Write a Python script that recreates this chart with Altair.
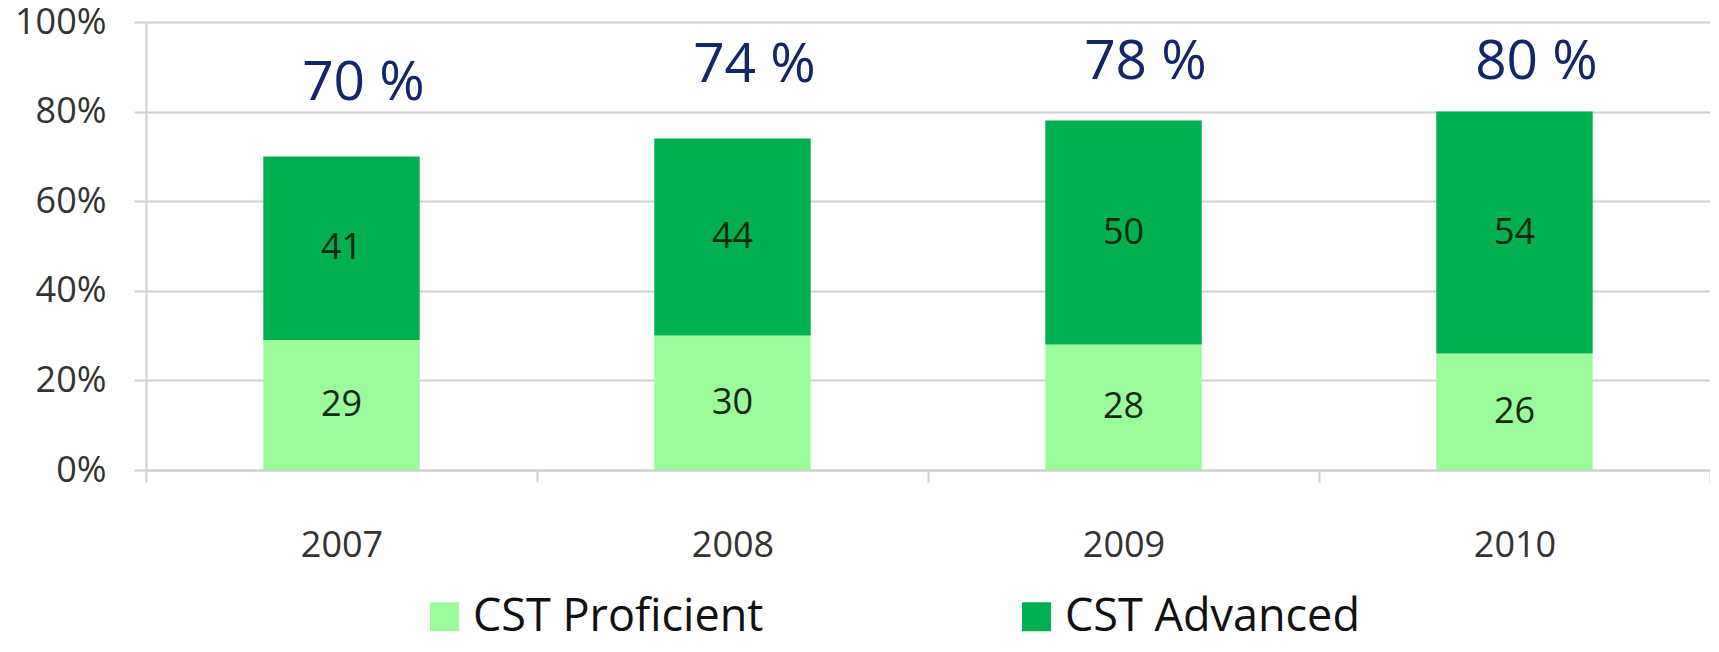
import altair as alt
import pandas as pd

years = ["2007", "2008", "2009", "2010"]
proficient = [29, 30, 28, 26]
advanced = [41, 44, 50, 54]
series_names = ["CST Proficient", "CST Advanced"]
series_colors = ["#9BFB9B", "#00B050"]
y_ticks = [0, 20, 40, 60, 80, 100]

rows = []
for i, yr in enumerate(years):
    rows.append({"year": yr, "series": series_names[0], "value": proficient[i], "order": 0})
    rows.append({"year": yr, "series": series_names[1], "value": advanced[i], "order": 1})
df = pd.DataFrame(rows)
tot = pd.DataFrame({"year": years, "total": [p + a for p, a in zip(proficient, advanced)]})

FONT = "Open Sans"
GRID = "#d0d0d0"

x_scale = alt.Scale(paddingInner=0, paddingOuter=0)
x_enc = alt.X(
    "year:N", sort=years, title=None, scale=x_scale,
    axis=alt.Axis(labelAngle=0, labelFontSize=36, labelFont=FONT, labelColor="#333333",
                  labelPadding=46, tickSize=12, tickBand="extent", tickColor=GRID,
                  tickWidth=2, domainColor=GRID, domainWidth=2, grid=False),
)
y_scale = alt.Scale(domain=[0, 100], nice=False)
y_axis = alt.Axis(values=y_ticks, labelExpr="datum.value + '%'", labelFontSize=36,
                  labelFont=FONT, labelColor="#333333", labelPadding=28, tickSize=12,
                  tickColor=GRID, tickWidth=2, grid=True, gridColor=GRID, gridWidth=2,
                  domainColor=GRID, domainWidth=2, title=None)

bars = alt.Chart(df).mark_bar(width={"band": 0.4}).encode(
    x=x_enc,
    y=alt.Y("value:Q", stack="zero", scale=y_scale, axis=y_axis),
    color=alt.Color("series:N", scale=alt.Scale(domain=series_names, range=series_colors),
                    legend=alt.Legend(orient="none", legendX=276, legendY=572,
                                      direction="horizontal", title=None, symbolType="square",
                                      symbolSize=841, symbolStrokeWidth=0, labelFontSize=45,
                                      labelFont=FONT, labelColor="#111111", labelOffset=6,
                                      labelLimit=0, columnPadding=250, padding=0,
                                      symbolOpacity=1)),
    order=alt.Order("order:Q"),
)

seg = alt.Chart(df).transform_stack(
    stack="value", groupby=["year"], as_=["v0", "v1"], sort=[alt.SortField("order")]
).transform_calculate(mid="(datum.v0 + datum.v1) / 2").mark_text(
    fontSize=36, font=FONT, color="#142814", baseline="middle"
).encode(
    x=alt.X("year:N", sort=years, scale=x_scale),
    y=alt.Y("mid:Q", scale=y_scale),
    text=alt.Text("value:Q"),
)

top = alt.Chart(tot).transform_calculate(
    ly="min(datum.total + 16.3, 91)", label="datum.total + ' %'"
).mark_text(fontSize=55, font=FONT, color="#13266A", baseline="middle", dx=22).encode(
    x=alt.X("year:N", sort=years, scale=x_scale),
    y=alt.Y("ly:Q", scale=y_scale),
    text="label:N",
)

chart = alt.layer(bars, seg, top).properties(
    width=1564, height=448,
    padding={"left": 138, "top": 14, "right": 0, "bottom": 174},
    autosize=alt.AutoSizeParams(type="none"),
).configure_view(stroke=None)

chart.save("out.html", embed_options={"renderer": "svg", "actions": False})
